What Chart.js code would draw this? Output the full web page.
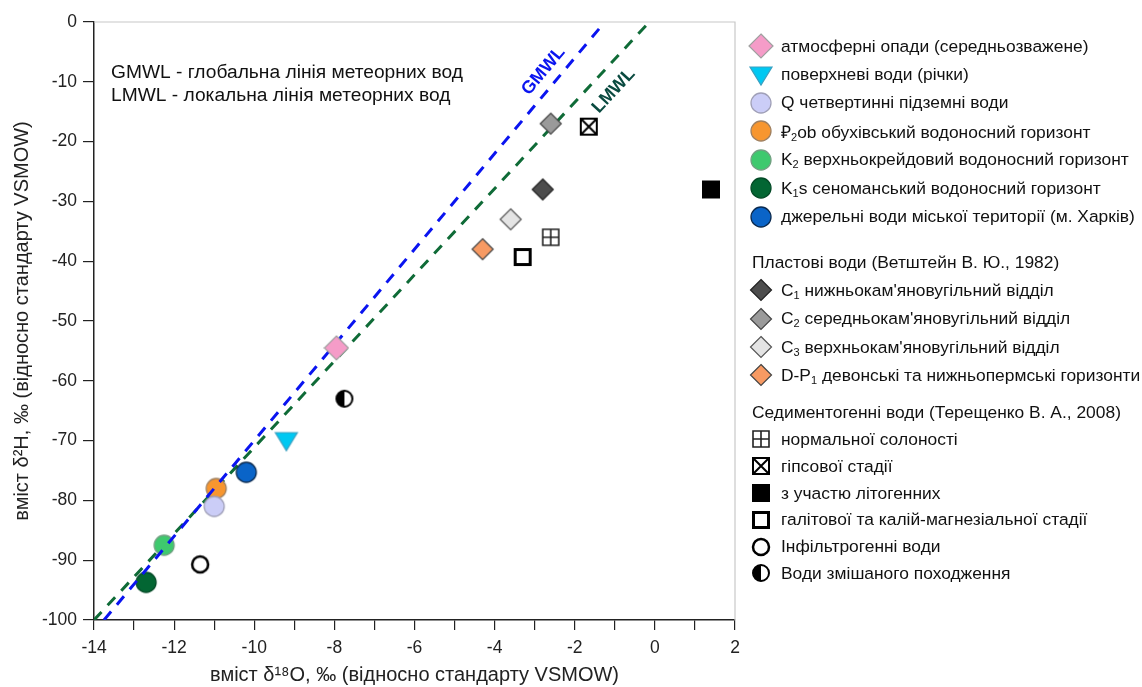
<!DOCTYPE html>
<html>
<head>
<meta charset="utf-8">
<script src="https://cdn.jsdelivr.net/npm/chart.js@4/dist/chart.umd.min.js"></script>
<style>
  body { margin: 0; background: #fff; font-family: 'Liberation Sans', Arial, sans-serif; }
  #wrap { position: relative; width: 1142px; height: 687px; }
  #chart { position: absolute; left: 0; top: 0; }
  #legend { position: absolute; left: 748px; top: 32px; font-size: 17.4px; color: #111; }
  .row { display: flex; align-items: center; height: 28.4px; white-space: nowrap; }
  .row img { width: 26px; height: 26px; margin-right: 7px; }
  .g3 .row { height: 26.8px; }
  .hdr { height: 28.4px; line-height: 28.4px; padding-left: 4px; white-space: nowrap; }
  .hdr.h2 { margin-top: 17px; }
  .hdr.h3 { margin-top: 8px; }
  sub { font-size: 11px; vertical-align: -3px; line-height: 0; }
</style>
</head>
<body>
<div id="wrap">
  <canvas id="chart" width="1142" height="687"></canvas>
  <div id="legend"></div>
</div>
<script>
// ============================================================
// δ18O – δ2H diagram, Kharkiv waters
// ============================================================

// Axis ranges
const xMin = -14, xMax = 2;
const yMin = -100, yMax = 0;

// Groups of the legend
const headers = ['', 'Пластові води (Ветштейн В. Ю., 1982)', 'Седиментогенні води (Терещенко В. А., 2008)'];

// Series (one point each) – δ18O, δ2H
const seriesLabels = [
  'атмосферні опади (середньозважене)',
  'поверхневі води (річки)',
  'Q четвертинні підземні води',
  '₽<sub>2</sub>ob обухівський водоносний горизонт',
  'K<sub>2</sub> верхньокрейдовий водоносний горизонт',
  'K<sub>1</sub>s сеноманський водоносний горизонт',
  'джерельні води міської території (м. Харків)',
  'C<sub>1</sub> нижньокам\'яновугільний відділ',
  'C<sub>2</sub> середньокам\'яновугільний відділ',
  'C<sub>3</sub> верхньокам\'яновугільний відділ',
  'D-P<sub>1</sub> девонські та нижньопермські горизонти',
  'нормальної солоності',
  'гіпсової стадії',
  'з участю літогенних',
  'галітової та калій-магнезіальної стадії',
  'Інфільтрогенні води',
  'Води змішаного походження'
];
const seriesGroup = [0, 0, 0, 0, 0, 0, 0, 1, 1, 1, 1, 2, 2, 2, 2, 2, 2];
const seriesX = [-7.95, -9.2, -11.0, -10.95, -12.25, -12.7, -10.2, -2.8, -2.6, -3.6, -4.3, -2.6, -1.65, 1.4, -3.3, -11.35, -7.75];
const seriesY = [-54.5, -70.0, -81.0, -78.0, -87.5, -93.7, -75.3, -28.0, -17.0, -33.0, -38.0, -36.0, -17.5, -28.0, -39.3, -90.7, -63.0];
const seriesShape = ['diamondBig', 'triDown', 'circle', 'circle', 'circle', 'circle', 'circle',
  'diamond', 'diamond', 'diamond', 'diamond',
  'sqPlus', 'sqX', 'sqFill', 'sqOpen', 'circOpen', 'circHalf'];
const seriesFill = ['#f59cc8', '#00c8f2', '#cbcdf7', '#f7962f', '#3ec96e', '#036633', '#0a64c8',
  '#4d4d4d', '#9a9a9a', '#e4e4e4', '#f79a63',
  '#fff', '#fff', '#000', '#fff', '#fff', '#fff'];
const seriesStroke = ['#a0a0a0', '#3aa0c0', '#a0a0b8', '#a08060', '#70a080', '#034a26', '#0a2a50',
  '#222', '#444', '#555', '#444',
  '#222', '#000', '#000', '#000', '#000', '#000'];

// Meteoric water lines (end points)
const gmwlX = [-13.75, -1.25], gmwlY = [-100, 0];
const lmwlX = [-14, -0.14], lmwlY = [-100, 0];
const lineLabels = ['GMWL', 'LMWL'];
const lineLabelX = [-2.78, -1.03];
const lineLabelY = [-8.2, -11.5];
const lineColors = ['#0a14f0', '#0f6b37'];
const lineLabelColors = ['#0a14f0', '#0a4a40'];

const noteLines = ['GMWL - глобальна лінія метеорних вод', 'LMWL - локальна лінія метеорних вод'];

// ------------------------------------------------------------
// Marker images
function makeMarker(kind, fill, stroke) {
  const c = document.createElement('canvas');
  c.width = c.height = 26;
  const g = c.getContext('2d');
  const m = 13;
  g.fillStyle = fill;
  g.strokeStyle = stroke;
  g.lineWidth = 1.2;
  g.beginPath();
  if (kind === 'diamond' || kind === 'diamondBig') {
    const r = kind === 'diamond' ? 10.5 : 12;
    g.moveTo(m, m - r); g.lineTo(m + r, m); g.lineTo(m, m + r); g.lineTo(m - r, m); g.closePath();
    g.fill(); g.stroke();
  } else if (kind === 'triDown') {
    g.moveTo(m - 11, m - 8); g.lineTo(m + 11, m - 8); g.lineTo(m, m + 10); g.closePath();
    g.fill(); g.stroke();
  } else if (kind === 'circle') {
    g.arc(m, m, 10, 0, Math.PI * 2);
    g.fill(); g.lineWidth = 1.3; g.stroke();
  } else if (kind === 'sqPlus') {
    g.lineWidth = 1.6;
    g.rect(m - 8, m - 8, 16, 16); g.fill();
    g.moveTo(m, m - 8); g.lineTo(m, m + 8);
    g.moveTo(m - 8, m); g.lineTo(m + 8, m);
    g.stroke();
  } else if (kind === 'sqX') {
    g.lineWidth = 2;
    g.rect(m - 8, m - 8, 16, 16); g.fill();
    g.moveTo(m - 8, m - 8); g.lineTo(m + 8, m + 8);
    g.moveTo(m + 8, m - 8); g.lineTo(m - 8, m + 8);
    g.stroke();
  } else if (kind === 'sqFill') {
    g.rect(m - 9, m - 9, 18, 18); g.fill();
  } else if (kind === 'sqOpen') {
    g.lineWidth = 3;
    g.rect(m - 7.5, m - 7.5, 15, 15); g.fill(); g.stroke();
  } else if (kind === 'circOpen') {
    g.lineWidth = 2.5;
    g.arc(m, m, 8, 0, Math.PI * 2); g.fill(); g.stroke();
  } else if (kind === 'circHalf') {
    g.lineWidth = 2;
    g.arc(m, m, 8, 0, Math.PI * 2); g.fillStyle = '#fff'; g.fill();
    g.beginPath(); g.fillStyle = '#000';
    g.arc(m, m, 8, Math.PI / 2, Math.PI * 1.5); g.closePath(); g.fill();
    g.beginPath(); g.arc(m, m, 8, 0, Math.PI * 2); g.stroke();
  }
  return c;
}

const markers = seriesShape.map((s, i) => makeMarker(s, seriesFill[i], seriesStroke[i]));

// ------------------------------------------------------------
// Datasets
const datasets = [
  {
    type: 'line', label: 'GMWL',
    data: gmwlX.map((x, i) => ({ x, y: gmwlY[i] })),
    borderColor: lineColors[0], borderWidth: 3, borderDash: [11, 9],
    pointRadius: 0, fill: false, order: 1
  },
  {
    type: 'line', label: 'LMWL',
    data: lmwlX.map((x, i) => ({ x, y: lmwlY[i] })),
    borderColor: lineColors[1], borderWidth: 3, borderDash: [11, 9],
    pointRadius: 0, fill: false, order: 3
  }
];
seriesLabels.forEach((lab, i) => {
  datasets.push({
    type: 'scatter', label: lab,
    data: [{ x: seriesX[i], y: seriesY[i] }],
    pointStyle: markers[i], pointRadius: 13,
    order: i === 0 ? 0 : 2
  });
});

// Light frame on top/right, notes and rotated line labels
const decorPlugin = {
  id: 'decor',
  beforeDatasetsDraw(chart) {
    const { ctx, chartArea: a } = chart;
    ctx.save();
    ctx.strokeStyle = '#c8c8c8';
    ctx.lineWidth = 1.2;
    ctx.beginPath();
    ctx.moveTo(a.left, a.top); ctx.lineTo(a.right, a.top); ctx.lineTo(a.right, a.bottom);
    ctx.stroke();
    ctx.fillStyle = '#111';
    ctx.font = '19.2px "Liberation Sans", Arial, sans-serif';
    ctx.textBaseline = 'middle';
    noteLines.forEach((t, i) => ctx.fillText(t, a.left + 17, a.top + 51 + i * 23));
    ctx.restore();
  },
  afterDatasetsDraw(chart) {
    const { ctx } = chart;
    const xs = chart.scales.x, ys = chart.scales.y;
    const ends = [[gmwlX, gmwlY], [lmwlX, lmwlY]];
    ctx.save();
    lineLabels.forEach((t, i) => {
      const [lx, ly] = ends[i];
      const dx = xs.getPixelForValue(lx[1]) - xs.getPixelForValue(lx[0]);
      const dy = ys.getPixelForValue(ly[1]) - ys.getPixelForValue(ly[0]);
      ctx.save();
      ctx.translate(xs.getPixelForValue(lineLabelX[i]), ys.getPixelForValue(lineLabelY[i]));
      ctx.rotate(Math.atan2(dy, dx));
      ctx.fillStyle = lineLabelColors[i];
      ctx.font = 'bold 18px "Liberation Sans", Arial, sans-serif';
      ctx.textAlign = 'center';
      ctx.textBaseline = 'middle';
      ctx.fillText(t, 0, 0);
      ctx.restore();
    });
    ctx.restore();
  }
};

const tickFont = { family: '"Liberation Sans", Arial, sans-serif', size: 17.5 };
const titleFont = { family: '"Liberation Sans", Arial, sans-serif', size: 20 };

new Chart(document.getElementById('chart'), {
  type: 'scatter',
  data: { datasets },
  options: {
    responsive: false,
    animation: false,
    layout: { padding: { left: 10, right: 407, top: 22, bottom: 0 } },
    plugins: { legend: { display: false }, tooltip: { enabled: false } },
    scales: {
      x: {
        type: 'linear', min: xMin, max: xMax,
        ticks: {
          stepSize: 1, color: '#222', font: tickFont, padding: 8, maxRotation: 0,
          callback: v => (v % 2 === 0 ? String(v) : '')
        },
        grid: { drawOnChartArea: false, drawTicks: true, tickLength: 10, color: '#222', lineWidth: 1.2 },
        border: { display: true, color: '#222', width: 1.5 },
        title: { display: true, text: 'вміст δ¹⁸O, ‰ (відносно стандарту VSMOW)', color: '#222', font: titleFont, padding: { top: -4, bottom: 0 } }
      },
      y: {
        type: 'linear', min: yMin, max: yMax,
        ticks: { stepSize: 10, color: '#222', font: tickFont, padding: 6 },
        grid: { drawOnChartArea: false, drawTicks: true, tickLength: 11, color: '#222', lineWidth: 1.2 },
        border: { display: true, color: '#222', width: 1.5 },
        title: { display: true, text: 'вміст δ²H, ‰ (відносно стандарту VSMOW)', color: '#222', font: titleFont, padding: { top: 0, bottom: 2 } }
      }
    }
  },
  plugins: [decorPlugin]
});

// HTML legend
const legend = document.getElementById('legend');
let html = '';
headers.forEach((h, gi) => {
  if (h) html += `<div class="hdr h${gi + 1}">${h}</div>`;
  html += `<div class="g${gi + 1}">`;
  seriesLabels.forEach((lab, i) => {
    if (seriesGroup[i] !== gi) return;
    html += `<div class="row"><img src="${markers[i].toDataURL()}"><span>${lab}</span></div>`;
  });
  html += '</div>';
});
legend.innerHTML = html;
</script>
</body>
</html>
